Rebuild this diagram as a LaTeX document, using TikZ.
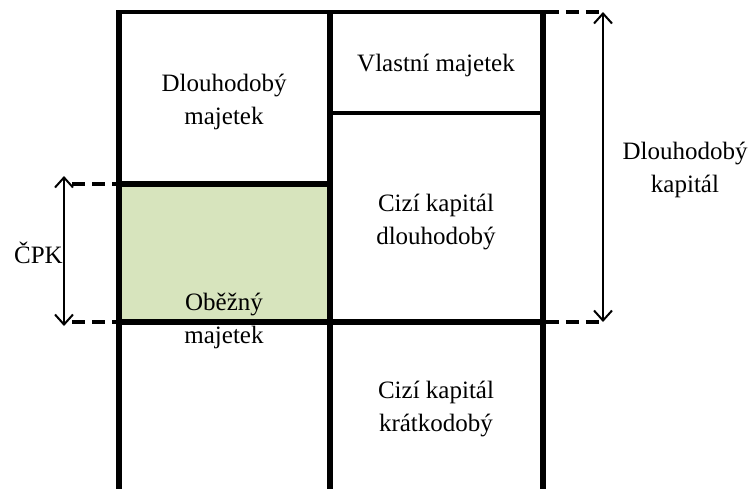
\documentclass[tikz,border=0pt]{standalone}
\usepackage{fontspec}
\setmainfont{Liberation Serif}
\usetikzlibrary{arrows.meta}
\definecolor{greenfill}{RGB}{215,228,189}
\begin{document}
\begin{tikzpicture}[x=1pt,y=-1pt,
  wall/.style={line width=5.5pt},
  thinwall/.style={line width=4.5pt},
  dashline/.style={line width=3.5pt,dash pattern=on 13pt off 7pt},
  dim/.style={line width=2pt,{Straight Barb[length=10pt,width=18pt,line width=2pt]}-{Straight Barb[length=10pt,width=18pt,line width=2pt]}},
  lbl/.style={font=\fontsize{25}{33}\selectfont,align=center,inner sep=0pt}]
\useasboundingbox (0,0) rectangle (754,488);
% coordinates
\coordinate (tl) at (119,12);
\coordinate (tm) at (330,12);
\coordinate (tr) at (543,12);
\coordinate (bl) at (119,492);
\coordinate (bm) at (330,492);
\coordinate (br) at (543,492);
\coordinate (vml) at (330,113);
\coordinate (vmr) at (543,113);
\coordinate (gtl) at (119,184);
\coordinate (gtr) at (330,184);
\coordinate (gbl) at (119,322);
\coordinate (gbr) at (330,322);
\coordinate (mr) at (543,322);
\coordinate (ld1) at (72,184);
\coordinate (ld2) at (72,322);
\coordinate (rd1) at (603,12);
\coordinate (rd2) at (603,322);
\coordinate (la1) at (64,176);
\coordinate (la2) at (64,326);
% green area
\fill[greenfill] (gtl) rectangle (gbr);
% table lines
\draw[thinwall] ([xshift=-2.75pt]tl) -- ([xshift=2.75pt]tr);
\draw[wall] (tl) -- (bl);
\draw[wall] (tm) -- (bm);
\draw[wall] (tr) -- (br);
\draw[thinwall] (vml) -- (vmr);
\draw[wall] (gtl) -- (gtr);
\draw[wall] (gbl) -- (mr);
% dashed extensions
\draw[dashline] (ld1) -- ([xshift=-2.75pt]gtl);
\draw[dashline] (ld2) -- ([xshift=-2.75pt]gbl);
\draw[dashline] ([xshift=2.75pt]tr) -- (rd1);
\draw[dashline] ([xshift=2.75pt]mr) -- (rd2);
% dimension arrows
\draw[dim] (la1) -- (la2);
\draw[dim] (rd1) -- (rd2);
% labels
\node[lbl] (dm) at (224,102) {Dlouhodobý\\majetek};
\node[lbl] (vm) at (436,65) {Vlastní majetek};
\node[lbl] (kd) at (436,222) {Cizí kapitál\\dlouhodobý};
\node[lbl] (om) at (224,321) {Oběžný\\majetek};
\node[lbl] (kk) at (436,409) {Cizí kapitál\\krátkodobý};
\node[lbl,anchor=east] (cpk) at (63,253) {ČPK};
\node[lbl] (dk) at (685,170) {Dlouhodobý\\kapitál};
\end{tikzpicture}
\end{document}
